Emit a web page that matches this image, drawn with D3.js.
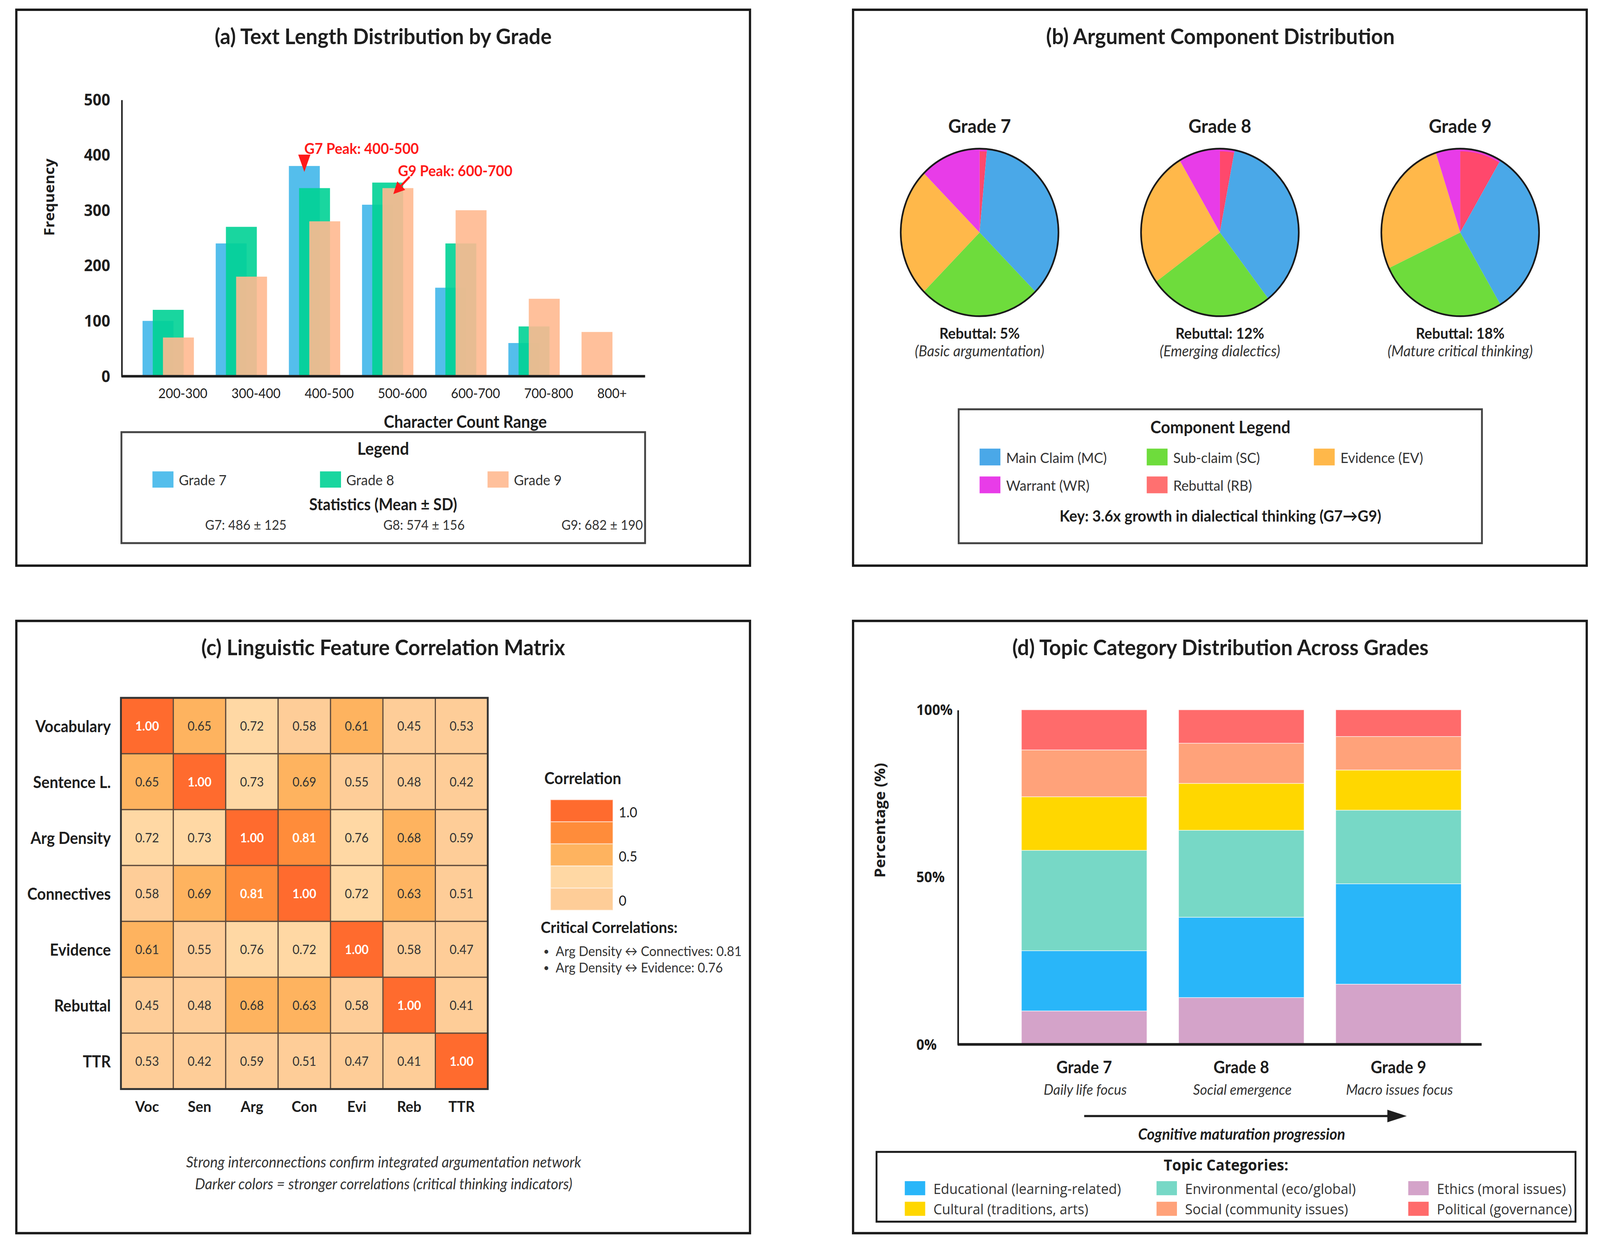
<!DOCTYPE html>
<html>
<head>
<meta charset="utf-8">
<script src="https://cdnjs.cloudflare.com/ajax/libs/d3/7.8.5/d3.min.js"></script>
<style>
html,body{margin:0;padding:0;background:#fff;width:100%;height:100%;overflow:hidden;}
svg{display:block;}
</style>
</head>
<body>
<svg id="chart"></svg>
<script>
// ---------------- DATA ----------------
// (a) text length distribution
const lengthRanges = ["200-300","300-400","400-500","500-600","600-700","700-800","800+"];
const grades = ["Grade 7","Grade 8","Grade 9"];
const freqG7 = [100,240,380,310,160,60,0];
const freqG8 = [120,270,340,350,240,90,0];
const freqG9 = [70,180,280,340,300,140,80];
const freqTicks = [0,100,200,300,400,500];
const statLabels = ["G7: 486 \u00B1 125","G8: 574 \u00B1 156","G9: 682 \u00B1 190"];
const peakNotes = [
  {label:"G7 Peak: 400-500", range:"400-500", grade:0, kind:"triangle"},
  {label:"G9 Peak: 600-700", range:"500-600", grade:2, kind:"arrow"}
];

// (b) argument components (slice shares)
const components = ["Main Claim (MC)","Sub-claim (SC)","Evidence (EV)","Warrant (WR)","Rebuttal (RB)"];
const compG7 = [36,25,25,12.5,1.5];
const compG8 = [36.5,25.5,26.5,8.5,3];
const compG9 = [33,26.5,27,5,8.5];
const pieOrder = [4,0,1,2,3]; // clockwise from 12 o'clock: RB, MC, SC, EV, WR
const rebuttalLabels = ["Rebuttal: 5%","Rebuttal: 12%","Rebuttal: 18%"];
const pieNotes = ["(Basic argumentation)","(Emerging dialectics)","(Mature critical thinking)"];
const keyNote = "Key: 3.6x growth in dialectical thinking (G7\u2192G9)";

// (c) correlation matrix
const features = ["Vocabulary","Sentence L.","Arg Density","Connectives","Evidence","Rebuttal","TTR"];
const featureAbbr = ["Voc","Sen","Arg","Con","Evi","Reb","TTR"];
const corrVoc = [1.00,0.65,0.72,0.58,0.61,0.45,0.53];
const corrSen = [0.65,1.00,0.73,0.69,0.55,0.48,0.42];
const corrArg = [0.72,0.73,1.00,0.81,0.76,0.68,0.59];
const corrCon = [0.58,0.69,0.81,1.00,0.72,0.63,0.51];
const corrEvi = [0.61,0.55,0.76,0.72,1.00,0.58,0.47];
const corrReb = [0.45,0.48,0.68,0.63,0.58,1.00,0.41];
const corrTTR = [0.53,0.42,0.59,0.51,0.47,0.41,1.00];
const corrThresholds = [0.6,0.7,0.8,1.0];
const corrColors = ["#fecd98","#feb35f","#ffd8a4","#ff8c3a","#ff6b2e"];
const corrLegendColors = ["#ff6b2e","#ff8c3a","#feb35f","#ffd8a4","#fecd98"];
const corrLegendTicks = ["1.0","0.5","0"];
const criticalNotes = ["Arg Density \u2194 Connectives: 0.81","Arg Density \u2194 Evidence: 0.76"];
const corrFootnotes = ["Strong interconnections confirm integrated argumentation network",
                       "Darker colors = stronger correlations (critical thinking indicators)"];

// (d) topic categories (percent, stacked bottom -> top)
const topicGrades = ["Grade 7","Grade 8","Grade 9"];
const topicNotes = ["Daily life focus","Social emergence","Macro issues focus"];
const topicKeys = ["Ethics","Educational","Environmental","Cultural","Social","Political"];
const topicEthics = [10,14,18];
const topicEducational = [18,24,30];
const topicEnvironmental = [30,26,22];
const topicCultural = [16,14,12];
const topicSocial = [14,12,10];
const topicPolitical = [12,10,8];
const topicTicks = [0,50,100];
const topicLegendOrder = ["Educational","Environmental","Ethics","Cultural","Social","Political"];
const topicLegendLabels = {Educational:"Educational (learning-related)",Environmental:"Environmental (eco/global)",
  Ethics:"Ethics (moral issues)",Cultural:"Cultural (traditions, arts)",Social:"Social (community issues)",
  Political:"Political (governance)"};

// ---------------- STYLE ----------------
const W = 1568, H = 1148;
const FONT = "Lato, 'Noto Sans', sans-serif";
const AXISFONT = "'Open Sans', 'Noto Sans', sans-serif";
const INK = "#1e1e1e";
const TITLE = 20.3;
const gradeColors = ["#41b7ea","#00d295","#ffb990"];
const compColors = ["#4aa8e8","#6edc3c","#ffb84a","#e83ce8","#ff486c"];
const compLegendColors = ["#4aa8e8","#6edc3c","#ffb84a","#e83ce8","#ff7070"];
const topicColors = {Ethics:"#d4a3c9",Educational:"#29b6f9",Environmental:"#77d8c6",Cultural:"#ffd700",Social:"#ffa27a",Political:"#ff6b6b"};

const vw = window.innerWidth || 4349, vh = window.innerHeight || 3184;
const svg = d3.select("#chart").attr("width",vw).attr("height",vh)
  .attr("viewBox",`0 0 ${W} ${H}`).attr("preserveAspectRatio","none");
svg.append("rect").attr("width",W).attr("height",H).attr("fill","#fff");

function label(g, x, y, s, o = {}) {
  return g.append("text").attr("x",x).attr("y",y).text(s)
    .attr("font-family",o.family || FONT)
    .attr("font-size",o.size || 14)
    .attr("font-weight",o.weight || "normal")
    .attr("font-style",o.style || "normal")
    .attr("text-anchor",o.anchor || "middle")
    .attr("dominant-baseline",o.baseline || "central")
    .attr("fill",o.fill || INK);
}

// panel frames
const frames = [[16,9,719,513],[836,9,719,513],[16,573,719,565],[836,573,719,565]];
svg.selectAll("rect.frame").data(frames).join("rect").attr("class","frame")
  .attr("x",d=>d[0]).attr("y",d=>d[1]).attr("width",d=>d[2]).attr("height",d=>d[3])
  .attr("fill","none").attr("stroke","#1a1a1a").attr("stroke-width",2.2);

// ================= (a) =================
const gA = svg.append("g");
label(gA,375.5,33,"(a) Text Length Distribution by Grade",{size:TITLE,weight:"bold"});
const xA = d3.scaleBand().domain(lengthRanges).range([139.7,641.6]);
const yA = d3.scaleLinear().domain([0,500]).range([347.2,91.9]);
const freqSeries = [freqG7,freqG8,freqG9];
const barW = 30.3, barShift = 10;
const barPos = {};
lengthRanges.forEach((cat,ci)=>{
  const present = grades.map((g,gi)=>({gi,v:freqSeries[gi][ci]})).filter(d=>d.v>0);
  present.forEach((d,k)=>{ barPos[cat+"|"+d.gi] = {cx:xA(cat)+k*barShift+barW/2, top:yA(d.v)}; });
  gA.append("g").selectAll("rect").data(present).join("rect")
    .attr("x",(d,k)=>xA(cat)+k*barShift).attr("y",d=>yA(d.v))
    .attr("width",barW).attr("height",d=>yA(0)-yA(d.v))
    .attr("fill",d=>gradeColors[d.gi]).attr("fill-opacity",0.9);
});
const yAxA = gA.append("g").attr("transform","translate(119,0)")
  .call(d3.axisLeft(yA).tickValues(freqTicks).tickSize(0).tickPadding(11));
yAxA.select(".domain").attr("stroke",INK).attr("stroke-width",1.5);
yAxA.selectAll("text").attr("font-family",AXISFONT).attr("font-weight","bold")
  .attr("font-size",15).attr("fill",INK);
const xAxA = gA.append("g").attr("transform",`translate(0,${yA(0)})`)
  .call(d3.axisBottom(xA).tickSize(0).tickPadding(11.5));
xAxA.select(".domain").remove();
xAxA.selectAll("text").attr("text-anchor","start").attr("dx",-20.4)
  .attr("font-family",FONT).attr("font-size",12.5).attr("fill",INK);
gA.append("line").attr("x1",119).attr("x2",632.2).attr("y1",yA(0)).attr("y2",yA(0))
  .attr("stroke",INK).attr("stroke-width",2.3);
label(gA,456,389,"Character Count Range",{size:15.5,weight:"bold"});
label(gA,0,0,"Frequency",{family:AXISFONT,size:13.7,weight:"bold"})
  .attr("transform","translate(48,182) rotate(-90)");

peakNotes.forEach(p=>{
  const b = barPos[p.range+"|"+p.grade];
  label(gA,b.cx,b.top-16.5,p.label,{size:13.9,weight:"bold",anchor:"start",fill:"#ff1a1a"});
  if (p.kind==="triangle") {
    gA.append("path").attr("d",`M${b.cx-6},${b.top-10.5}L${b.cx+6},${b.top-10.5}L${b.cx},${b.top+5.5}Z`)
      .attr("fill","#ff1a1a");
  } else {
    const x1=b.cx+11.5, y1=b.top-10.5, x2=b.cx-4.5, y2=b.top+5.5;
    const ang=Math.atan2(y2-y1,x2-x1), L=11, Wd=5.5;
    const bx=x2-L*Math.cos(ang), by=y2-L*Math.sin(ang);
    gA.append("line").attr("x1",x1).attr("y1",y1).attr("x2",bx).attr("y2",by)
      .attr("stroke","#ff1a1a").attr("stroke-width",2);
    gA.append("path").attr("d",`M${x2},${y2}L${bx+Wd*Math.sin(ang)},${by-Wd*Math.cos(ang)}L${bx-Wd*Math.sin(ang)},${by+Wd*Math.cos(ang)}Z`)
      .attr("fill","#ff1a1a");
  }
});

gA.append("rect").attr("x",119).attr("y",398.8).attr("width",513.2).attr("height",102.4)
  .attr("fill","none").attr("stroke","#444").attr("stroke-width",1.8);
label(gA,375.5,413.5,"Legend",{size:15.8,weight:"bold"});
const legA = gA.append("g").selectAll("g").data(grades).join("g")
  .attr("transform",(d,i)=>`translate(${149.4+i*164.2},435)`);
legA.append("rect").attr("width",20.6).attr("height",15).attr("fill",(d,i)=>gradeColors[i]).attr("fill-opacity",0.9);
legA.each(function(d){ label(d3.select(this),25.8,7.5,d,{size:13.4,anchor:"start",fill:"#333"}); });
label(gA,375.5,465,"Statistics (Mean \u00B1 SD)",{size:14.9,weight:"bold"});
statLabels.forEach((s,i)=>label(gA,201+i*174.6,484,s,{size:12.5,anchor:"start",fill:"#333"}));

// ================= (b) =================
const gB = svg.append("g");
label(gB,1196,33,"(b) Argument Component Distribution",{size:TITLE,weight:"bold"});
const pieX = d3.scalePoint().domain(grades).range([960,1431]);
const pieY = 214.5, R = 77.3;
const compSeries = [compG7,compG8,compG9];
const pie = d3.pie().sort(null).value(d=>d.v);
const arc = d3.arc().innerRadius(0).outerRadius(R);
const rimArc = d3.arc().innerRadius(R-2.4).outerRadius(R);
grades.forEach((g,gi)=>{
  const cx = pieX(g);
  const gp = gB.append("g").attr("transform",`translate(${cx},${pieY})`);
  const arcs = pie(pieOrder.map(ci=>({ci,v:compSeries[gi][ci]})));
  gp.selectAll("path.slice").data(arcs).join("path").attr("class","slice")
    .attr("d",arc).attr("fill",d=>compColors[d.data.ci]);
  gp.selectAll("path.rim").data(arcs.filter(d=>d.data.ci===4)).join("path").attr("class","rim")
    .attr("d",rimArc).attr("fill",compColors[3]).attr("opacity",0.85);
  gp.append("circle").attr("r",R).attr("fill","none").attr("stroke","#1a1a1a").attr("stroke-width",1.6);
  label(gB,cx,115.7,g,{size:17.5,weight:"bold"});
  label(gB,cx,307.3,rebuttalLabels[gi],{size:14,weight:"bold"});
  label(gB,cx,323.3,pieNotes[gi],{size:14,style:"italic",fill:"#333"});
});
gB.append("rect").attr("x",939.5).attr("y",377.7).attr("width",512.8).attr("height",123.6)
  .attr("fill","none").attr("stroke","#444").attr("stroke-width",1.8);
label(gB,1196,393.7,"Component Legend",{size:15.8,weight:"bold"});
const legB = gB.append("g").selectAll("g").data(components).join("g")
  .attr("transform",(d,i)=>`translate(${960+(i%3)*163.8},${414+Math.floor(i/3)*25.7})`);
legB.append("rect").attr("width",20.4).attr("height",15.5).attr("fill",(d,i)=>compLegendColors[i]);
legB.each(function(d){ label(d3.select(this),26,8,d,{size:13.5,anchor:"start",fill:"#333"}); });
label(gB,1196,475.5,keyNote,{size:14.6,weight:"bold"});

// ================= (c) =================
const gC = svg.append("g");
label(gC,375.5,597,"(c) Linguistic Feature Correlation Matrix",{size:TITLE,weight:"bold"});
const corrRows = [corrVoc,corrSen,corrArg,corrCon,corrEvi,corrReb,corrTTR];
const xC = d3.scaleBand().domain(features).range([118.5,478]);
const yC = d3.scaleBand().domain(features).range([644,1005]);
const colorC = d3.scaleThreshold().domain(corrThresholds).range(corrColors);
const cells = [];
corrRows.forEach((row,ri)=>row.forEach((v,ci)=>cells.push({r:features[ri],c:features[ci],v})));
const cellG = gC.append("g").selectAll("g").data(cells).join("g");
cellG.append("rect").attr("x",d=>xC(d.c)).attr("y",d=>yC(d.r))
  .attr("width",xC.bandwidth()).attr("height",yC.bandwidth())
  .attr("fill",d=>colorC(d.v)).attr("stroke","#5e4a3b").attr("stroke-width",1.1);
cellG.each(function(d){
  label(d3.select(this),xC(d.c)+xC.bandwidth()/2,yC(d.r)+yC.bandwidth()/2,d.v.toFixed(2),
    {size:11.8,weight:d.v>=0.8?"bold":"normal",fill:d.v>=0.8?"#fff":"#333"});
});
gC.append("rect").attr("x",118.5).attr("y",644).attr("width",359.5).attr("height",361)
  .attr("fill","none").attr("stroke","#333").attr("stroke-width",1.8);
features.forEach(f=>label(gC,108.6,yC(f)+yC.bandwidth()/2,f,{size:14.9,weight:"bold",anchor:"end"}));
featureAbbr.forEach((a,i)=>label(gC,xC(features[i])+xC.bandwidth()/2,1020.6,a,{size:14,weight:"bold"}));
label(gC,533.5,718,"Correlation",{size:15,weight:"bold",anchor:"start"});
const legYC = d3.scaleBand().domain(d3.range(corrLegendColors.length)).range([738,840]);
gC.append("g").selectAll("rect").data(corrLegendColors).join("rect")
  .attr("x",539.5).attr("y",(d,i)=>legYC(i)).attr("width",61.2).attr("height",legYC.bandwidth())
  .attr("fill",d=>d).attr("stroke","#fff").attr("stroke-opacity",0.45).attr("stroke-width",1);
const legTickY = d3.scalePoint().domain(corrLegendTicks).range([749,830.4]);
corrLegendTicks.forEach(t=>label(gC,606.4,legTickY(t),t,{size:13,anchor:"start"}));
label(gC,529.9,855.2,"Critical Correlations:",{size:14.7,weight:"bold",anchor:"start"});
criticalNotes.forEach((s,i)=>{
  label(gC,535.4,877.3+i*15.3,"\u2022",{size:10,anchor:"middle",fill:"#333"});
  label(gC,544.6,877.3+i*15.3,s,{size:12.5,anchor:"start",fill:"#333"});
});
corrFootnotes.forEach((s,i)=>label(gC,376,1072+i*20,s,{size:14,style:"italic",fill:"#333"}));

// ================= (d) =================
const gD = svg.append("g");
label(gD,1196,597,"(d) Topic Category Distribution Across Grades",{size:TITLE,weight:"bold"});
const topicTable = topicGrades.map((g,i)=>({grade:g,Ethics:topicEthics[i],Educational:topicEducational[i],
  Environmental:topicEnvironmental[i],Cultural:topicCultural[i],Social:topicSocial[i],Political:topicPolitical[i]}));
const stackD = d3.stack().keys(topicKeys)(topicTable);
const xD = d3.scaleBand().domain(topicGrades).range([1001,1432]).paddingInner(0.2013).paddingOuter(0);
const yD = d3.scaleLinear().domain([0,100]).range([963.8,655]);
gD.append("g").selectAll("g").data(stackD).join("g").attr("fill",s=>topicColors[s.key])
  .selectAll("rect").data(s=>s).join("rect")
  .attr("x",d=>xD(d.data.grade)).attr("y",d=>yD(d[1])).attr("width",xD.bandwidth())
  .attr("height",d=>yD(d[0])-yD(d[1])).attr("stroke","#fff").attr("stroke-width",0.6).attr("stroke-opacity",0.7);
const yAxD = gD.append("g").attr("transform","translate(938.5,0)")
  .call(d3.axisLeft(yD).tickValues(topicTicks).tickFormat(d=>d+"%").tickSize(0));
yAxD.select(".domain").attr("stroke",INK).attr("stroke-width",1.6);
yAxD.selectAll("text").attr("text-anchor","start").attr("x",-40.5)
  .attr("font-family",AXISFONT).attr("font-weight","bold").attr("font-size",13.6).attr("fill",INK);
gD.append("line").attr("x1",938.5).attr("x2",1452).attr("y1",yD(0)).attr("y2",yD(0))
  .attr("stroke",INK).attr("stroke-width",2.4);
label(gD,0,0,"Percentage (%)",{family:AXISFONT,size:14.2,weight:"bold"})
  .attr("transform","translate(862,757) rotate(-90)");
topicGrades.forEach((g,i)=>{
  const cx = xD(g)+xD.bandwidth()/2;
  label(gD,cx,984.4,g,{size:15.5,weight:"bold"});
  label(gD,cx+1,1005,topicNotes[i],{size:13.5,style:"italic",fill:"#333"});
});
const arrX1 = xD(topicGrades[0])+xD.bandwidth()/2, arrX2 = 1378.6, arrY = 1029.9;
gD.append("line").attr("x1",arrX1).attr("x2",arrX2-16).attr("y1",arrY).attr("y2",arrY)
  .attr("stroke",INK).attr("stroke-width",2);
gD.append("path").attr("d",`M${arrX2},${arrY}L${arrX2-19},${arrY-5.8}L${arrX2-19},${arrY+5.8}Z`).attr("fill",INK);
label(gD,1216.8,1046,"Cognitive maturation progression",{size:14.5,weight:"bold",style:"italic"});
gD.append("rect").attr("x",859).attr("y",1063).attr("width",685).attr("height",64.4)
  .attr("fill","none").attr("stroke","#1a1a1a").attr("stroke-width",1.8);
label(gD,1201.5,1074.7,"Topic Categories:",{family:AXISFONT,size:14.4,weight:"bold"});
const legD = gD.append("g").selectAll("g").data(topicLegendOrder).join("g")
  .attr("transform",(d,i)=>`translate(${886.7+(i%3)*246.7},${1090+Math.floor(i/3)*19})`);
legD.append("rect").attr("width",20).attr("height",13).attr("fill",d=>topicColors[d]);
legD.each(function(d){ label(d3.select(this),28,6.5,topicLegendLabels[d],{family:AXISFONT,size:13.4,anchor:"start",fill:"#333"}); });
</script>
</body>
</html>
